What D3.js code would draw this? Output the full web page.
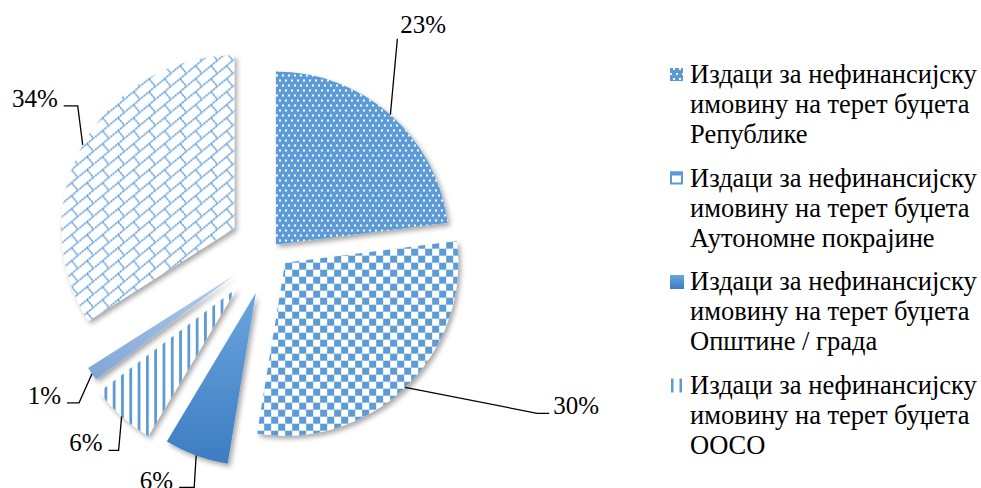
<!DOCTYPE html>
<html>
<head>
<meta charset="utf-8">
<script src="https://cdn.jsdelivr.net/npm/d3@7"></script>
<style>
  html, body { margin: 0; padding: 0; background: #fff; }
  svg { display: block; font-family: "Liberation Serif", "Times New Roman", serif; }
</style>
</head>
<body>
<div id="chart"></div>
<script>
// ===============================
// DATA
// ===============================
const categories = [
  ["Издаци за нефинансијску", "имовину на терет буџета", "Републике"],
  ["Издаци за нефинансијску", "имовину на терет буџета", "Аутономне покрајине"],
  ["Издаци за нефинансијску", "имовину на терет буџета", "Општине / града"],
  ["Издаци за нефинансијску", "имовину на терет буџета", "ООСО"],
  ["Издаци за нефинансијску", "имовину из донација"],
  ["Издаци за нефинансијску", "имовину из осталих извора"]
];
const shares = [23.0, 29.6, 6.0, 6.1, 1.3, 34.0];
const fills = ["url(#pDots)", "url(#pCheck)", "url(#gSolid)", "url(#pStripes)", "url(#gLight)", "url(#pBrick)"];

// explosion of each slice (px) and label leader layout
const explode = [6, 19, 47, 52, 46, 43];
const leader = [
  { kx: 7, ky: -76, hx: 0, side: "up" },
  { kx: 132, ky: 26, hx: 12, side: "right" },
  { kx: -2, ky: 32, hx: -15, side: "left" },
  { kx: -3, ky: 34, hx: -10, side: "left" },
  { kx: -13, ky: 29, hx: -12, side: "left" },
  { kx: -5, ky: -39, hx: -14, side: "left" }
];

// ===============================
// DIMENSIONS
// ===============================
const width = 981, height = 488;
const cx = 272, cy = 249, R = 173;
const blue = "#5B9BD5";

const svg = d3.select("#chart").append("svg")
  .attr("width", width)
  .attr("height", height);

// ===============================
// PATTERNS / GRADIENTS
// ===============================
const defs = svg.append("defs");

const dots = defs.append("pattern").attr("id", "pDots")
  .attr("patternUnits", "userSpaceOnUse").attr("width", 6).attr("height", 10);
dots.append("rect").attr("width", 6).attr("height", 10).attr("fill", blue);
dots.append("rect").attr("x", 0).attr("y", 0).attr("width", 2).attr("height", 2).attr("fill", "#fff");
dots.append("rect").attr("x", 3).attr("y", 5).attr("width", 2).attr("height", 2).attr("fill", "#fff");

const check = defs.append("pattern").attr("id", "pCheck")
  .attr("patternUnits", "userSpaceOnUse").attr("width", 14).attr("height", 14);
check.append("rect").attr("width", 14).attr("height", 14).attr("fill", "#fff");
check.append("rect").attr("width", 7).attr("height", 7).attr("fill", blue);
check.append("rect").attr("x", 7).attr("y", 7).attr("width", 7).attr("height", 7).attr("fill", blue);

const stripes = defs.append("pattern").attr("id", "pStripes")
  .attr("patternUnits", "userSpaceOnUse").attr("width", 8.3).attr("height", 10);
stripes.append("rect").attr("width", 8.3).attr("height", 10).attr("fill", "#fff");
stripes.append("rect").attr("x", 0).attr("width", 2.8).attr("height", 10).attr("fill", blue);

const bw = 15.5, bh = 13;
const brick = defs.append("pattern").attr("id", "pBrick")
  .attr("patternUnits", "userSpaceOnUse").attr("width", bw).attr("height", bh);
brick.append("rect").attr("width", bw).attr("height", bh).attr("fill", "#fff");
const k = (bw * bh) / (bw * bw + bh * bh);
brick.append("path")
  .attr("d", `M0,${bh}L${bw},0 M${bw / 2},${bh / 2}l${bh * k},${bw * k}` +
    ` M${bw / 2 - bw},${bh / 2}l${bh * k},${bw * k} M${bw / 2},${bh / 2 - bh}l${bh * k},${bw * k}` +
    ` M${bw / 2 - bw},${bh / 2 - bh}l${bh * k},${bw * k}`)
  .attr("stroke", blue)
  .attr("stroke-width", 1.5)
  .attr("stroke-dasharray", "2.5 0.6")
  .attr("fill", "none");

const gSolid = defs.append("linearGradient").attr("id", "gSolid")
  .attr("x1", 0).attr("y1", 0).attr("x2", 0).attr("y2", 1);
gSolid.append("stop").attr("offset", "0%").attr("stop-color", "#6AA5DE");
gSolid.append("stop").attr("offset", "100%").attr("stop-color", "#3D7CC2");

const gLight = defs.append("linearGradient").attr("id", "gLight")
  .attr("x1", 1).attr("y1", 0).attr("x2", 0).attr("y2", 1);
gLight.append("stop").attr("offset", "0%").attr("stop-color", "#B4CDEC");
gLight.append("stop").attr("offset", "100%").attr("stop-color", "#7FA5D6");

const shadow = defs.append("filter").attr("id", "shadow")
  .attr("x", "-20%").attr("y", "-20%").attr("width", "140%").attr("height", "140%");
shadow.append("feDropShadow")
  .attr("dx", 2.5).attr("dy", 3).attr("stdDeviation", 2.5)
  .attr("flood-color", "#000").attr("flood-opacity", 0.35);

// ===============================
// PIE
// ===============================
const pie = d3.pie().sort(null).value((d) => d);
const arc = d3.arc().innerRadius(0).outerRadius(R);
const arcs = pie(shares);

const mid = (d) => (d.startAngle + d.endAngle) / 2;

const slices = svg.append("g").attr("transform", `translate(${cx},${cy})`);

slices.selectAll("path")
  .data(arcs)
  .join("path")
  .attr("transform", (d, i) => {
    const a = mid(d);
    return `translate(${explode[i] * Math.sin(a)},${-explode[i] * Math.cos(a)})`;
  })
  .attr("d", arc)
  .attr("fill", (d, i) => fills[i])
  .attr("filter", "url(#shadow)");

// ===============================
// LABELS + LEADER LINES
// ===============================
const labels = svg.append("g");

arcs.forEach((d, i) => {
  const a = mid(d);
  const rr = explode[i] + R;
  const px = cx + rr * Math.sin(a);
  const py = cy - rr * Math.cos(a);
  const L = leader[i];
  const kx = px + L.kx, ky = py + L.ky;
  const ex = kx + L.hx, ey = ky;

  labels.append("path")
    .attr("d", `M${px},${py}L${kx},${ky}L${ex},${ey}`)
    .attr("fill", "none")
    .attr("stroke", "#000")
    .attr("stroke-width", 1.3);

  const t = labels.append("text")
    .attr("font-size", 25)
    .attr("fill", "#000")
    .text(Math.round(d.data) + "%");

  if (L.side === "up") {
    t.attr("x", ex + 3).attr("y", ey - 6).attr("text-anchor", "start");
  } else if (L.side === "right") {
    t.attr("x", ex + 4).attr("y", ey + 1).attr("text-anchor", "start");
  } else {
    t.attr("x", ex - 6).attr("y", ey + 1).attr("text-anchor", "end");
  }
});

// ===============================
// LEGEND
// ===============================
const legend = svg.append("g").attr("transform", "translate(670,83)");
const lineH = 30, groupH = 103.5;

categories.forEach((lines, i) => {
  const y0 = i * groupH;
  if (y0 + (lines.length - 1) * lineH + 6 > height - 83) return;

  const g = legend.append("g").attr("transform", `translate(0,${y0})`);

  if (i === 0) {
    g.append("rect").attr("x", 0).attr("y", -15).attr("width", 13).attr("height", 13).attr("fill", "url(#pDots)");
  } else if (i === 1) {
    g.append("rect").attr("x", 1).attr("y", -14).attr("width", 11).attr("height", 11)
      .attr("fill", "#fff").attr("stroke", blue).attr("stroke-width", 2);
    g.append("rect").attr("x", 0).attr("y", -15).attr("width", 13).attr("height", 4).attr("fill", blue);
  } else if (i === 2) {
    g.append("rect").attr("x", 0).attr("y", -15).attr("width", 14).attr("height", 14).attr("fill", "url(#gSolid)");
  } else if (i === 3) {
    g.append("rect").attr("x", 1).attr("y", -15).attr("width", 2.5).attr("height", 14).attr("fill", blue);
    g.append("rect").attr("x", 9.5).attr("y", -15).attr("width", 2.5).attr("height", 14).attr("fill", blue);
  }

  g.append("text")
    .attr("x", 20)
    .attr("y", 0)
    .attr("font-size", 26.5)
    .attr("fill", "#000")
    .selectAll("tspan")
    .data(lines)
    .join("tspan")
    .attr("x", 20)
    .attr("dy", (l, j) => (j === 0 ? 0 : lineH))
    .text((l) => l);
});
</script>
</body>
</html>
